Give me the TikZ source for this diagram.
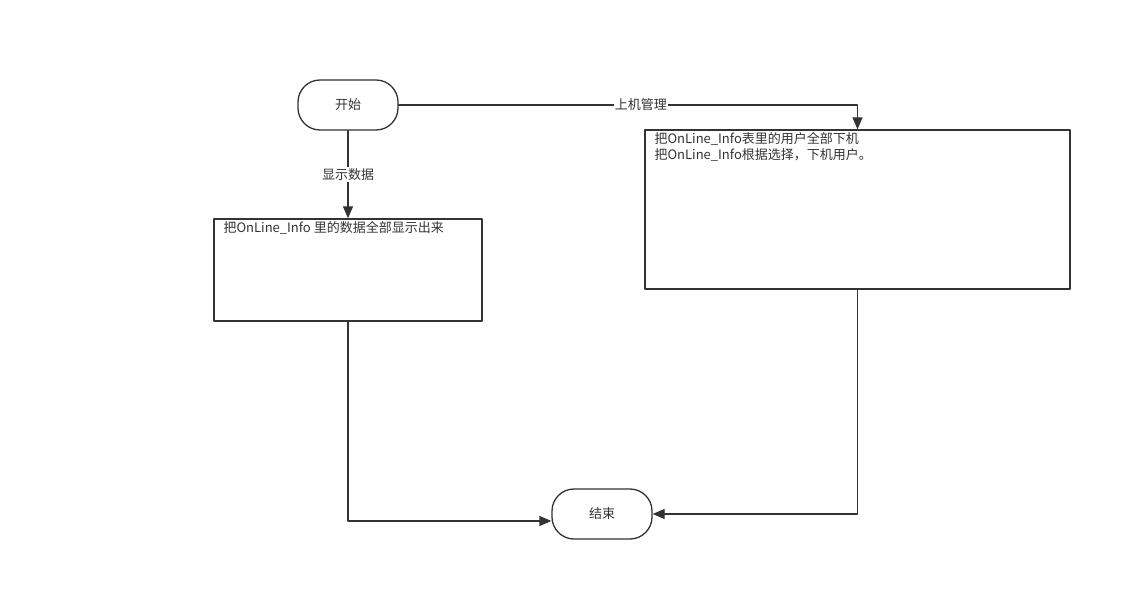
\documentclass[tikz,border=0pt]{standalone}
\usepackage{fontspec}
\setmainfont{Noto Sans CJK SC}
\usetikzlibrary{arrows.meta,positioning}
\definecolor{ink}{HTML}{333333}
\tikzset{
  flow/.style={draw=ink,line width=1.3pt,-{Triangle[length=12pt,width=10pt]}},
  term/.style={draw=ink,line width=1.3pt,rounded corners=22pt,minimum width=100pt,minimum height=50pt,text=ink},
  proc/.style={draw=ink,line width=1.3pt,text=ink},
  txt/.style={anchor=north west,inner sep=0pt,text=ink,align=left},
  lbl/.style={fill=white,inner sep=1pt,text=ink}
}
\begin{document}
\begin{tikzpicture}[x=1pt,y=-1pt,line cap=round,line join=round,font=\fontsize{13}{16}\selectfont]
      \useasboundingbox (0,0) rectangle (1132,601);
      \node[term] (start) at (348,105) {开始};
      \node[term] (stop) at (602,514) {结束};
      \node[proc,minimum width=268pt,minimum height=102pt] (show) at (348,270) {};
      \node[proc,minimum width=425pt,minimum height=159pt] (manage) at (857.5,209.5) {};
      \node[txt] (showtxt) at ([shift={(10pt,-3pt)}]show.north west) {把OnLine\_Info 里的数据全部显示出来};
      \node[txt] (managetxt) at ([shift={(10pt,-2.5pt)}]manage.north west) {把OnLine\_Info表里的用户全部下机\\把OnLine\_Info根据选择，下机用户。};
      \coordinate (in) at ([yshift=-7pt]stop.west);

      \draw[flow] (start) -- node[lbl] {显示数据} (show);
      \draw[flow] (start.east) -| node[lbl,pos=0.264] {上机管理} (manage.north);
      \draw[flow] (show.south) |- (in);
      \draw[flow] (manage.south) |- (stop.east);
\end{tikzpicture}
\end{document}
